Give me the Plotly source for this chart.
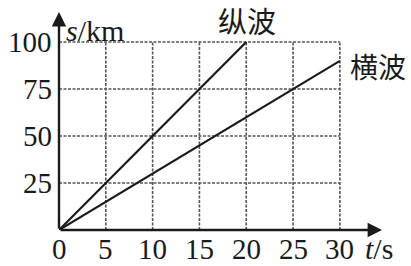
import plotly.graph_objects as go

# data
t_long = [0, 20]
s_long = [0, 100]
t_trans = [0, 30]
s_trans = [0, 90]
x_ticks = [0, 5, 10, 15, 20, 25, 30]
y_ticks = [25, 50, 75, 100]
x_grid = [5, 10, 15, 20, 25, 30]
y_grid = [25, 50, 75, 100]
label_long = "纵波"
label_trans = "横波"

XMAX = 34.5
YMAX = 116
serif = "Liberation Serif"
cjk = "Noto Sans CJK SC"

fig = go.Figure()

grid_color = "#555555"
for gx in x_grid:
    fig.add_trace(go.Scatter(x=[gx, gx], y=[0, max(y_grid)], mode="lines",
                             line=dict(color=grid_color, width=1.6, dash="3px,1.5px"),
                             hoverinfo="skip", showlegend=False))
for gy in y_grid:
    fig.add_trace(go.Scatter(x=[0, max(x_grid)], y=[gy, gy], mode="lines",
                             line=dict(color=grid_color, width=1.6, dash="3px,1.5px"),
                             hoverinfo="skip", showlegend=False))

fig.add_trace(go.Scatter(x=t_long, y=s_long, mode="lines",
                         line=dict(color="#1a1a1a", width=2.2), showlegend=False))
fig.add_trace(go.Scatter(x=t_trans, y=s_trans, mode="lines",
                         line=dict(color="#1a1a1a", width=2.2), showlegend=False))

# axes with arrows
fig.add_annotation(x=XMAX, y=0, ax=0, ay=0, xref="x", yref="y", axref="x", ayref="y",
                   showarrow=True, arrowhead=2, arrowsize=1.2, arrowwidth=2.4,
                   arrowcolor="#1a1a1a", text="")
fig.add_annotation(x=0, y=YMAX, ax=0, ay=0, xref="x", yref="y", axref="x", ayref="y",
                   showarrow=True, arrowhead=2, arrowsize=1.2, arrowwidth=2.4,
                   arrowcolor="#1a1a1a", text="")

# tick labels
for v in x_ticks:
    fig.add_annotation(x=v, y=0, xref="x", yref="y", text=str(v), showarrow=False,
                       yanchor="top", yshift=-1, font=dict(family=serif, size=29, color="#1a1a1a"))
for v in y_ticks:
    fig.add_annotation(x=0, y=v, xref="x", yref="y", text=str(v), showarrow=False,
                       xanchor="right", xshift=-5, font=dict(family=serif, size=29, color="#1a1a1a"))

fig.add_annotation(x=0, y=YMAX, xref="x", yref="y", text="<i>s</i>/km", showarrow=False,
                   xanchor="left", yanchor="top", xshift=5, yshift=0,
                   font=dict(family=serif, size=30, color="#1a1a1a"))
fig.add_annotation(x=XMAX, y=0, xref="x", yref="y", text="<i>t</i>/s", showarrow=False,
                   xanchor="right", yanchor="top", xshift=13, yshift=0,
                   font=dict(family=serif, size=30, color="#1a1a1a"))
fig.add_annotation(x=t_long[1], y=s_long[1], xref="x", yref="y", text=label_long, showarrow=False,
                   xanchor="center", yanchor="bottom", xshift=1, yshift=-1,
                   font=dict(family=cjk, size=29, color="#1a1a1a"))
fig.add_annotation(x=t_trans[1], y=s_trans[1], xref="x", yref="y", text=label_trans, showarrow=False,
                   xanchor="left", yanchor="bottom", xshift=8, yshift=-27,
                   font=dict(family=cjk, size=28, color="#1a1a1a"))

fig.update_xaxes(range=[0, XMAX], visible=False, fixedrange=True)
fig.update_yaxes(range=[0, YMAX], visible=False, fixedrange=True)
fig.update_layout(width=411, height=266, margin=dict(l=59, r=29, t=12, b=36),
                  plot_bgcolor="white", paper_bgcolor="white")
fig.write_html("out.html")
